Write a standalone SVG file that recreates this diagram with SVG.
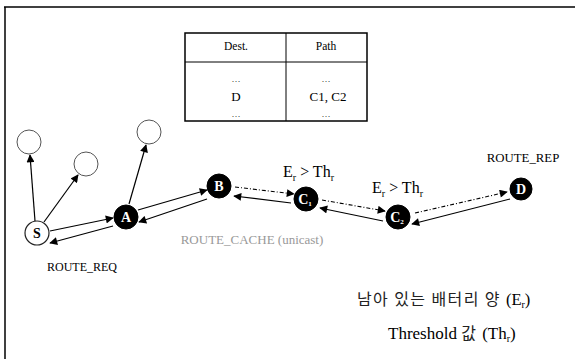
<svg xmlns="http://www.w3.org/2000/svg" width="577" height="359" viewBox="0 0 577 359">
<style>
.t{font-family:'Liberation Serif','DejaVu Serif',serif;fill:#000}
.k{font-family:'Noto Sans CJK KR',sans-serif;fill:#222}
.ln{stroke:#000;stroke-width:1.2;fill:none}
.ds{stroke:#000;stroke-width:1.1;fill:none;stroke-dasharray:4 2 1 2}
.blk{fill:#000;stroke:#000}
.emp{fill:#fff;stroke:#555;stroke-width:1}
.nl{font-family:'Liberation Serif','DejaVu Serif',serif;font-size:14px;font-weight:bold;text-anchor:middle}
</style>
<defs>
<marker id="ah" viewBox="0 0 10 10" refX="9" refY="5" markerWidth="9" markerHeight="8" markerUnits="userSpaceOnUse" orient="auto">
<path d="M0,0 L10,5 L0,10 z" fill="#000"/>
</marker>
</defs>
<rect width="577" height="359" fill="#fff"/>
<g id="frame">
<line x1="4" y1="7" x2="575" y2="7" stroke="#000" stroke-width="1.5"/>
<line x1="5" y1="7" x2="5" y2="359" stroke="#000" stroke-width="1.5"/>
</g>
<g id="table">
<rect x="185" y="33" width="182" height="88" fill="#fff" stroke="#000" stroke-width="1.5"/>
<line x1="286" y1="33" x2="286" y2="121" stroke="#000" stroke-width="1"/>
<line x1="185" y1="62" x2="367" y2="62" stroke="#000" stroke-width="1"/>
<text class="t" x="236" y="50" font-size="11.5" text-anchor="middle">Dest.</text>
<text class="t" x="326" y="50" font-size="11.5" text-anchor="middle">Path</text>
<text class="t" x="236" y="82" font-size="9" text-anchor="middle">…</text>
<text class="t" x="326" y="82" font-size="9" text-anchor="middle">…</text>
<text class="t" x="236" y="101" font-size="13" text-anchor="middle">D</text>
<text class="t" x="328" y="101" font-size="13" text-anchor="middle">C1, C2</text>
<text class="t" x="236" y="117" font-size="9" text-anchor="middle">…</text>
<text class="t" x="326" y="117" font-size="9" text-anchor="middle">…</text>
</g>
<g id="connectors">
<line class="ln" x1="35" y1="221" x2="30" y2="155" marker-end="url(#ah)"/>
<line class="ln" x1="44" y1="222" x2="78" y2="175" marker-end="url(#ah)"/>
<line class="ln" x1="129" y1="204" x2="146" y2="145" marker-end="url(#ah)"/>
<line class="ln" x1="50" y1="231" x2="113" y2="218" marker-end="url(#ah)"/>
<line class="ln" x1="113" y1="226" x2="50" y2="243" marker-end="url(#ah)"/>
<line class="ln" x1="138" y1="210" x2="207" y2="190" marker-end="url(#ah)"/>
<line class="ln" x1="207" y1="199" x2="139" y2="222" marker-end="url(#ah)"/>
<line class="ds" x1="235" y1="187" x2="294" y2="194" marker-end="url(#ah)"/>
<line class="ln" x1="291" y1="203" x2="234" y2="196" marker-end="url(#ah)"/>
<line class="ds" x1="322" y1="200" x2="385" y2="211" marker-end="url(#ah)"/>
<line class="ln" x1="383" y1="221" x2="320" y2="208" marker-end="url(#ah)"/>
<line class="ds" x1="415" y1="213" x2="507" y2="192" marker-end="url(#ah)"/>
<line class="ln" x1="510" y1="199" x2="412" y2="224" marker-end="url(#ah)"/>
</g>
<g id="n1"><circle class="emp" cx="29" cy="142" r="12"/></g>
<g id="n2"><circle class="emp" cx="86" cy="164" r="12"/></g>
<g id="n3"><circle class="emp" cx="149" cy="132" r="12"/></g>
<g id="S"><circle cx="37" cy="233" r="12" fill="#fff" stroke="#222" stroke-width="1.2"/><text class="nl" x="37" y="238" fill="#000">S</text></g>
<g id="A"><circle class="blk" cx="126" cy="217" r="12"/><text class="nl" x="126" y="222" fill="#fff">A</text></g>
<g id="B"><circle class="blk" cx="219" cy="186" r="12"/><text class="nl" x="219" y="191" fill="#fff">B</text></g>
<g id="C1"><circle class="blk" cx="306" cy="199" r="12"/><text class="nl" x="305" y="204" fill="#fff" font-size="13">C<tspan font-size="7" dy="2">1</tspan></text></g>
<g id="C2"><circle class="blk" cx="398" cy="217" r="12"/><text class="nl" x="397" y="222" fill="#fff" font-size="13">C<tspan font-size="7" dy="2">2</tspan></text></g>
<g id="D"><circle class="blk" cx="521" cy="189" r="11"/><text class="nl" x="521" y="194" fill="#fff">D</text></g>
<g id="labels">
<text class="t" x="283" y="177" font-size="16">E<tspan font-size="10" dy="4">r</tspan><tspan dy="-4"> &gt; Th</tspan><tspan font-size="10" dy="4">r</tspan></text>
<text class="t" x="372" y="193" font-size="16">E<tspan font-size="10" dy="4">r</tspan><tspan dy="-4"> &gt; Th</tspan><tspan font-size="10" dy="4">r</tspan></text>
<text class="t" x="523" y="162" font-size="12.8" text-anchor="middle">ROUTE_REP</text>
<text class="t" x="252" y="244" font-size="13" text-anchor="middle" style="fill:#999">ROUTE_CACHE (unicast)</text>
<text class="t" x="82" y="271" font-size="12" text-anchor="middle">ROUTE_REQ</text>
<text class="t" x="357" y="305" font-size="16.5"><tspan class="k" font-size="16" letter-spacing="1.4">남아 있는 배터리 양 </tspan><tspan>(E</tspan><tspan font-size="10" dy="3">r</tspan><tspan dy="-3">)</tspan></text>
<text class="t" x="388" y="339" font-size="17"><tspan>Threshold </tspan><tspan class="k" font-size="16" letter-spacing="2">값</tspan><tspan> (Th</tspan><tspan font-size="10" dy="3">r</tspan><tspan dy="-3">)</tspan></text>
</g>
</svg>
